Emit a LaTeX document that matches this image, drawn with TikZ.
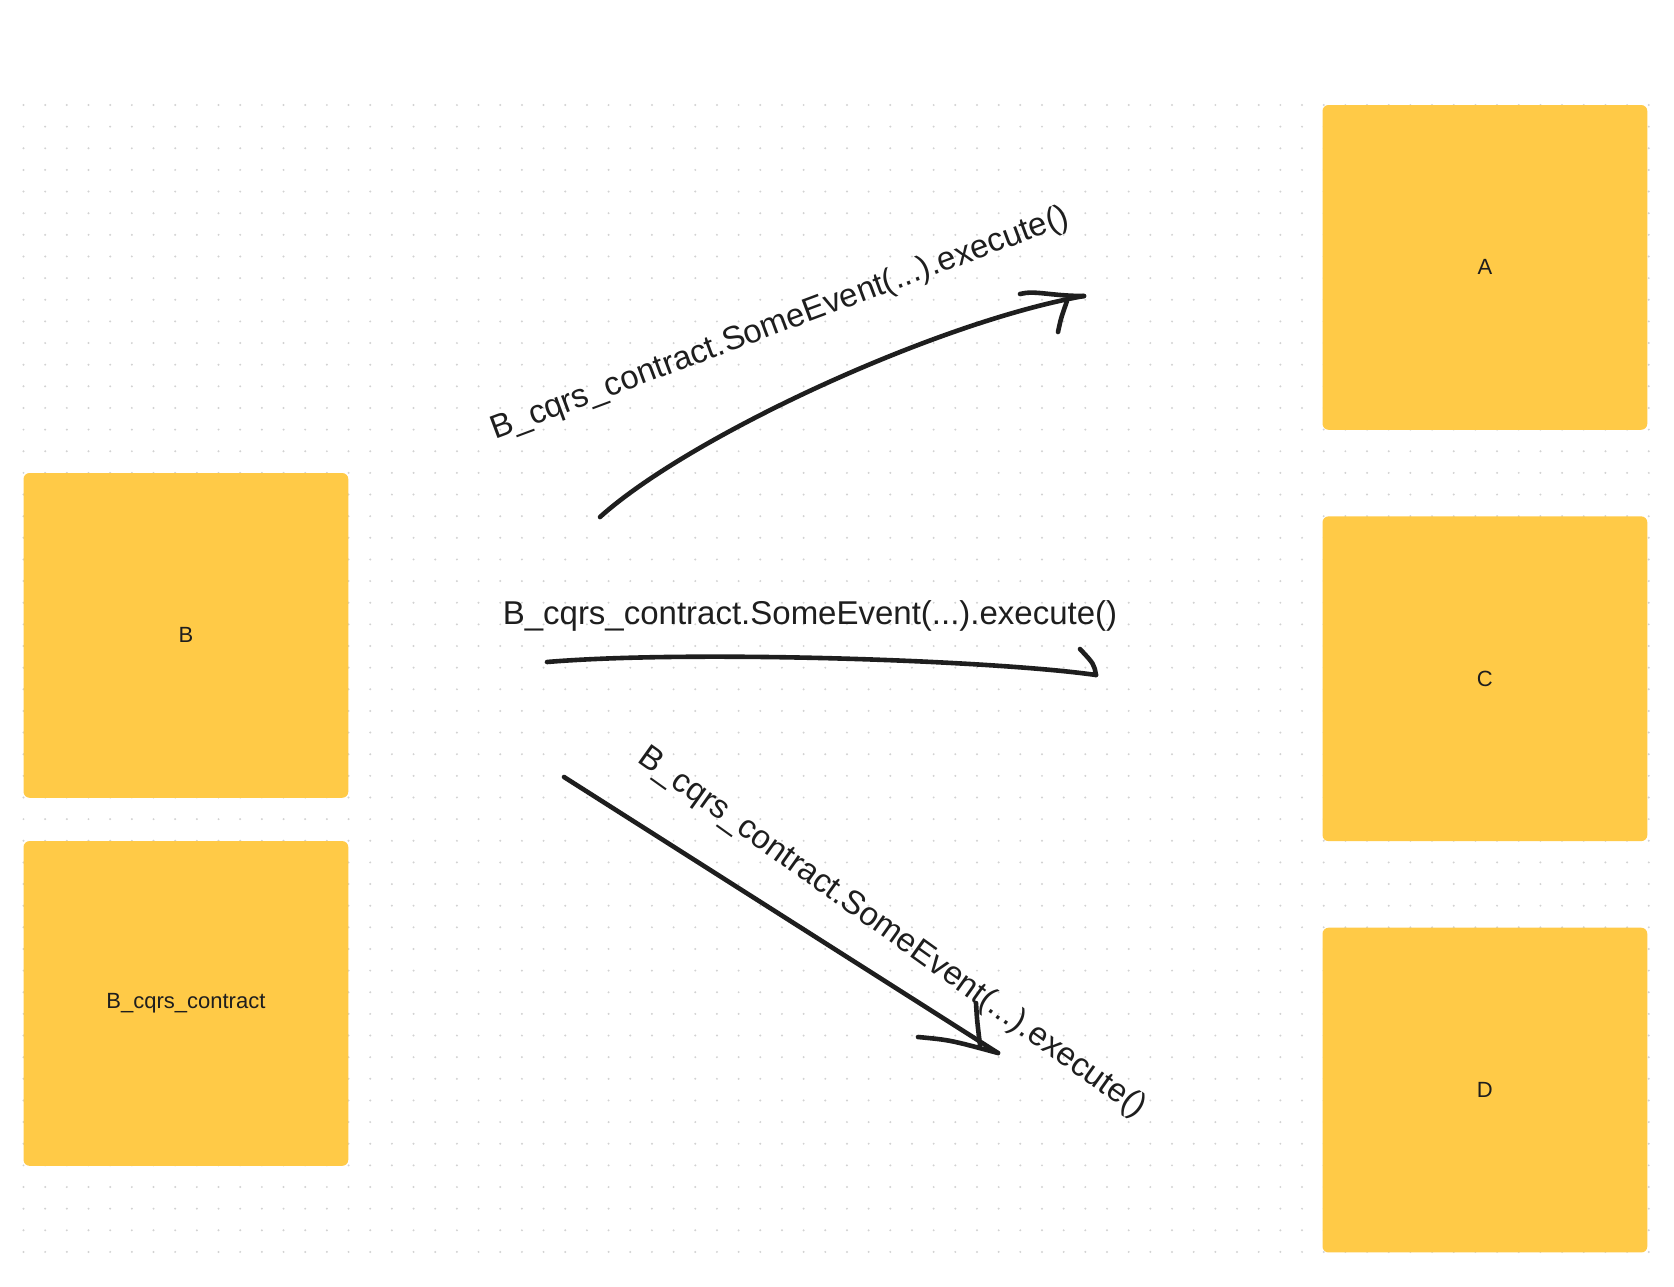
\documentclass[tikz,border=0pt]{standalone}
\usepackage{fontspec}
\setmainfont{Liberation Sans}
\usepackage{tikz}
\usetikzlibrary{positioning}
\definecolor{stickyyellow}{HTML}{FFCA47}
\definecolor{inkblack}{HTML}{1E1E1E}
\definecolor{dotgray}{HTML}{D2D2D2}
\tikzstyle{sticky}=[rectangle,fill=stickyyellow,rounded corners=6pt,inner sep=0pt,outer sep=0pt,minimum width=324.75pt,minimum height=324.75pt,text=inkblack,font=\fontsize{22}{26}\selectfont]
\tikzstyle{call}=[inner sep=0pt,text=inkblack,font=\fontsize{33}{40}\selectfont]
\tikzstyle{flow}=[draw=inkblack,line width=4.6pt,line cap=round,line join=round]

\begin{document}
\begin{tikzpicture}[x=1pt,y=-1pt]
\useasboundingbox[fill=white] (0,0) rectangle (1674,1286);

% dotted board
\foreach \i in {0,...,75}
  \foreach \j in {0,...,53}
    \fill[dotgray] ({23.5+\i*21.67},{105+\j*21.64}) circle (1.1pt);

% services
\node (b) [sticky] at (185.9,635.4) {B};
\node (bc) [sticky,below=43.3pt of b] {B\_cqrs\_contract};
\node (a) [sticky] at (1484.9,267.4) {A};
\node (c) [sticky,below=86.6pt of a] {C};
\node (d) [sticky,below=86.6pt of c] {D};

% free arrow ends
\coordinate (toAs) at (600,517);
\coordinate (toAe) at (1084,296);
\coordinate (toCs) at (547,662);
\coordinate (toCe) at (1096,675);
\coordinate (toDs) at (564,777);
\coordinate (toDe) at (998,1053);

\draw [flow] (toAs) .. controls (690,436) and (937,322) .. (toAe);
\draw [flow] (toAe) .. controls (1050,296) and (1035,290) .. ++(-64,-2);
\draw [flow] (toAe) ++(-17,5) .. controls (1061,318) .. ++(-9,31);

\draw [flow] (toCs) .. controls (690,650) and (990,660) .. (toCe);
\draw [flow] (toCe) .. controls (1094,664) .. ++(-16,-26);

\draw [flow] (toDs) -- (toDe);
\draw [flow] (toDe) .. controls (950,1040) .. ++(-80,-16);
\draw [flow] (toDe) ++(-18,-8) .. controls (977,1020) .. ++(-4,-42);

\node (lblA) [call,rotate=20.5] at (780,324) {B\_cqrs\_contract.SomeEvent(...).execute()};
\node (lblC) [call] at (810,616) {B\_cqrs\_contract.SomeEvent(...).execute()};
\node (lblD) [call,rotate=-35.5] at (892,933) {B\_cqrs\_contract.SomeEvent(...).execute()};

\end{tikzpicture}
\end{document}
